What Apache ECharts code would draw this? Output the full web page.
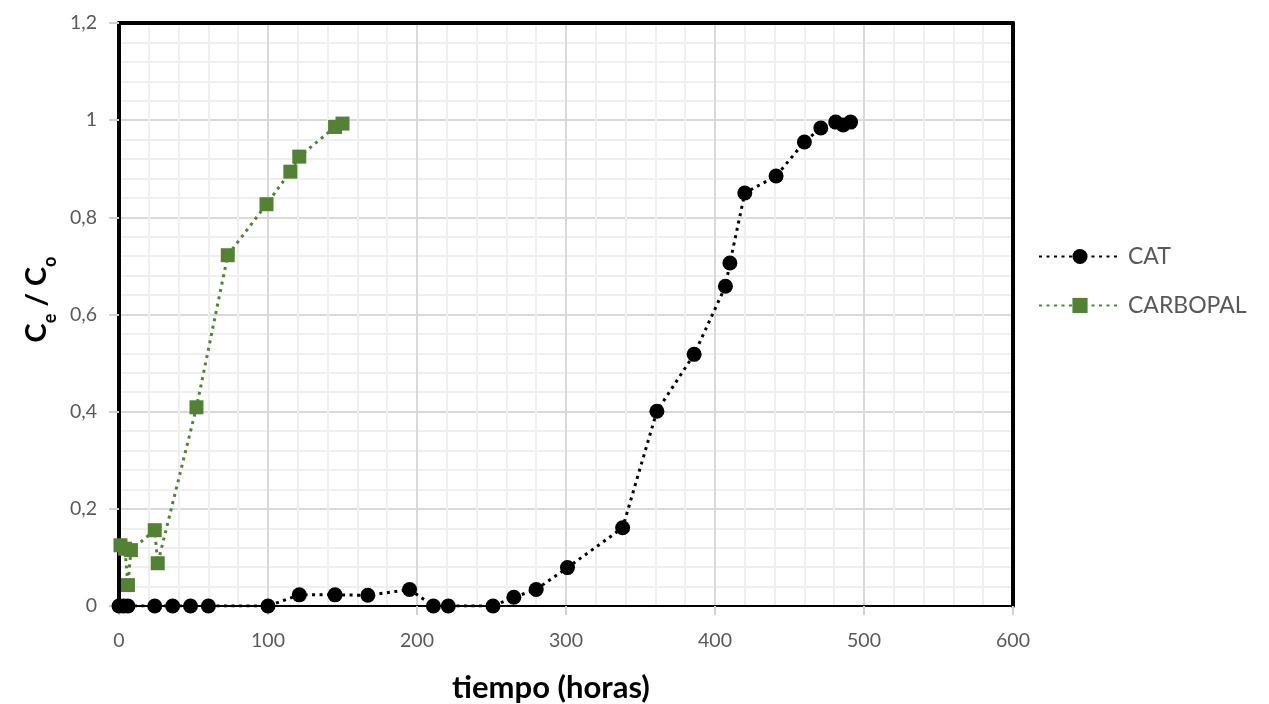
<!DOCTYPE html>
<html>
<head>
<meta charset="utf-8">
<script src="https://cdn.jsdelivr.net/npm/echarts@6/dist/echarts.min.js"></script>
<style>
  html, body { margin: 0; padding: 0; background: #fff; }
  #chart { width: 1269px; height: 704px; }
</style>
</head>
<body>
<div id="chart"></div>
<script>
// Breakthrough curves: relative concentration vs. time
const catTime  = [0, 3, 6, 24, 36, 48, 60, 100, 121, 145, 167, 195, 211, 221, 251, 265, 280, 301, 338, 361, 386, 407, 410, 420, 441, 460, 471, 481, 486, 491];
const catRatio = [0, 0, 0, 0, 0, 0, 0, 0, 0.023, 0.023, 0.022, 0.034, 0, 0, 0, 0.018, 0.034, 0.079, 0.161, 0.401, 0.518, 0.658, 0.706, 0.850, 0.885, 0.955, 0.984, 0.996, 0.990, 0.996];

const carbTime  = [1, 4, 6, 8, 24, 26, 52, 73, 99, 115, 121, 145, 150];
const carbRatio = [0.125, 0.118, 0.043, 0.115, 0.156, 0.088, 0.409, 0.722, 0.827, 0.894, 0.925, 0.986, 0.993];

const seriesNames = ['CAT', 'CARBOPAL'];
const xTicks = { min: 0, max: 600, interval: 100 };
const yTicks = { min: 0, max: 1.2, interval: 0.2 };

const pairs = (xs, ys) => xs.map((x, i) => [x, ys[i]]);

const FONT = 'Lato, "Liberation Sans", sans-serif';
const GREY = '#595959';
const GREEN = '#548235';

const chart = echarts.init(document.getElementById('chart'), null, { renderer: 'canvas' });

chart.setOption({
  animation: false,
  backgroundColor: '#ffffff',
  textStyle: { fontFamily: FONT },
  grid: { left: 119, right: 256, top: 23, bottom: 98, containLabel: false, outerBoundsMode: 'none' },
  legend: {
    orient: 'vertical',
    left: 1033,
    top: 240,
    itemWidth: 82,
    itemHeight: 19,
    itemGap: 26,
    textStyle: { color: GREY, fontSize: 23, fontFamily: FONT, padding: [0, 0, 0, 2] },
    data: seriesNames
  },
  xAxis: [{
    type: 'value',
    min: xTicks.min, max: xTicks.max, interval: xTicks.interval,
    name: 'tiempo (horas)',
    nameLocation: 'middle',
    nameGap: 66,
    nameTextStyle: { fontSize: 31, fontWeight: 'bold', color: '#000', fontFamily: FONT, padding: [0, 30, 0, 0] },
    axisLine: { show: true, onZero: false, lineStyle: { color: '#000', width: 2 } },
    axisTick: { show: true, length: 9, inside: false, lineStyle: { color: '#d0d0d0', width: 2 } },
    axisLabel: { color: GREY, fontSize: 19.5, margin: 25, fontFamily: FONT },
    splitLine: { show: true, lineStyle: { color: '#d9d9d9', width: 2 } },
    minorTick: { show: false, splitNumber: 5 },
    minorSplitLine: { show: true, lineStyle: { color: '#efefef', width: 2 } }
  }, {
    // frame along the top edge
    type: 'value', position: 'top',
    min: xTicks.min, max: xTicks.max, interval: xTicks.interval,
    axisLine: { show: true, onZero: false, lineStyle: { color: '#000', width: 4 } },
    axisTick: { show: false }, axisLabel: { show: false }, splitLine: { show: false }
  }],
  yAxis: [{
    type: 'value',
    min: yTicks.min, max: yTicks.max, interval: yTicks.interval,
    name: '{c|C}{s|e}{c| / C}{s|o}',
    nameLocation: 'middle',
    nameRotate: 90,
    nameGap: 64,
    nameTextStyle: {
      padding: [0, 0, 0, 30],
      rich: {
        c: { fontSize: 29, fontWeight: 'bold', color: '#000', fontFamily: FONT, lineHeight: 34, verticalAlign: 'bottom' },
        s: { fontSize: 18, fontWeight: 'bold', color: '#000', fontFamily: FONT, lineHeight: 34, verticalAlign: 'bottom', padding: [0, 0, -8, 0] }
      }
    },
    axisLine: { show: true, onZero: false, lineStyle: { color: '#000', width: 4 } },
    axisTick: { show: true, length: 10, inside: false, lineStyle: { color: '#d0d0d0', width: 2 } },
    axisLabel: {
      color: GREY, fontSize: 19.5, margin: 22, fontFamily: FONT,
      formatter: v => String(Math.round(v * 10) / 10).replace('.', ',')
    },
    splitLine: { show: true, lineStyle: { color: '#d9d9d9', width: 2 } },
    minorTick: { show: false, splitNumber: 5 },
    minorSplitLine: { show: true, lineStyle: { color: '#efefef', width: 2 } }
  }, {
    // frame along the right edge
    type: 'value', position: 'right',
    min: yTicks.min, max: yTicks.max, interval: yTicks.interval,
    axisLine: { show: true, onZero: false, lineStyle: { color: '#000', width: 4 } },
    axisTick: { show: false }, axisLabel: { show: false }, splitLine: { show: false }
  }],
  series: [{
    name: seriesNames[0],
    type: 'line',
    data: pairs(catTime, catRatio),
    symbol: 'circle',
    symbolSize: 15,
    itemStyle: { color: '#000' },
    lineStyle: { color: '#000', width: 3, type: [3, 4.5] },
    z: 3
  }, {
    name: seriesNames[1],
    type: 'line',
    data: pairs(carbTime, carbRatio),
    symbol: 'rect',
    symbolSize: 14,
    itemStyle: { color: GREEN },
    lineStyle: { color: GREEN, width: 3, type: [3, 4.5] },
    z: 4
  }]
});
</script>
</body>
</html>
